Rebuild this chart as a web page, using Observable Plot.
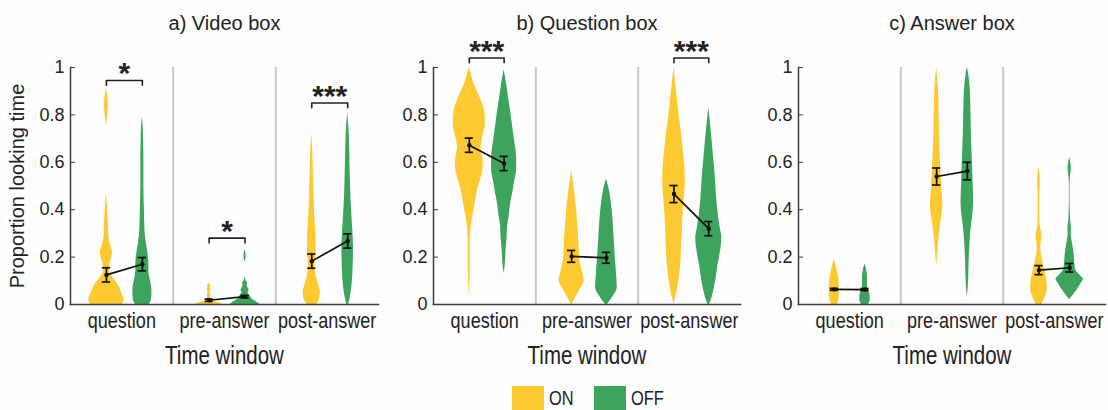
<!DOCTYPE html>
<html>
<head>
<meta charset="utf-8">
<script src="https://cdn.jsdelivr.net/npm/d3@7"></script>
<script src="https://cdn.jsdelivr.net/npm/@observablehq/plot@0.6"></script>
<style>
  html, body { margin: 0; padding: 0; background: #fdfdfd; }
  #wrap { position: relative; width: 1108px; height: 410px; overflow: hidden;
          font-family: "Liberation Sans", Arial, sans-serif; color: #222; }
  .panel { position: absolute; top: 0; }
  .legend { position: absolute; top: 386px; left: 512px; display: flex; align-items: center;
            font-family: "Liberation Sans", Arial, sans-serif; font-size: 20px; color: #222; }
  .sw { width: 32px; height: 24px; display: inline-block; margin-right: 5px; }
  .lab { display: inline-block; transform: scaleX(0.82); transform-origin: left center; margin-right: 14px; }
  .lab.on { width: 31px; }
</style>
</head>
<body>
<div id="wrap"></div>
<script>
// ---------- categories & labels ----------
const windows = ["question", "pre-answer", "post-answer"];
const conditions = ["ON", "OFF"];
const panelTitles = ["a) Video box", "b) Question box", "c) Answer box"];
const yTicks = [0, 0.2, 0.4, 0.6, 0.8, 1];
const yLabel = "Proportion looking time";
const xLabel = "Time window";

// ---------- means and standard errors (per time window) ----------
const videoMeanON = [0.125, 0.018, 0.183];
const videoMeanOFF = [0.17, 0.033, 0.268];
const videoSemON = [0.03, 0.005, 0.03];
const videoSemOFF = [0.028, 0.005, 0.03];

const questionMeanON = [0.672, 0.203, 0.466];
const questionMeanOFF = [0.595, 0.197, 0.32];
const questionSemON = [0.03, 0.025, 0.036];
const questionSemOFF = [0.03, 0.023, 0.03];

const answerMeanON = [0.064, 0.54, 0.145];
const answerMeanOFF = [0.063, 0.563, 0.155];
const answerSemON = [0.004, 0.036, 0.019];
const answerSemOFF = [0.004, 0.037, 0.018];

// ---------- significance labels (per time window) ----------
const videoSig = ["*", "*", "***"];
const videoSigLevel = [0.945, 0.28, 0.85];
const questionSig = ["***", "", "***"];
const questionSigLevel = [1.04, null, 1.04];
const answerSig = ["", "", ""];
const answerSigLevel = [null, null, null];

// ---------- violin density profiles: [proportion, relative density] ----------
const videoQuestionON = [[0,16],[0.02,17.5],[0.05,15],[0.08,12],[0.10,8.5],[0.12,5],[0.14,3],[0.17,3.5],[0.20,5.5],[0.22,6],[0.25,4],[0.28,2.5],[0.33,2],[0.38,1.5],[0.44,0.5],[0.48,0],[0.75,0],[0.78,0.8],[0.83,1.8],[0.86,1.8],[0.89,0.8],[0.91,0]];
const videoQuestionOFF = [[0,7],[0.02,9],[0.05,9.5],[0.08,9],[0.11,7.5],[0.14,6.5],[0.17,6.5],[0.2,6],[0.23,5],[0.27,3.5],[0.32,2.5],[0.4,2],[0.5,1.5],[0.6,1.5],[0.7,1.2],[0.75,0.8],[0.79,0]];
const videoPreON = [[0,13],[0.006,11],[0.012,5],[0.02,2],[0.03,1.5],[0.04,2],[0.05,1],[0.06,1.8],[0.07,1.2],[0.08,1.5],[0.09,0]];
const videoPreOFF = [[0,15],[0.01,12],[0.02,8],[0.03,6],[0.04,4.5],[0.05,3],[0.06,4],[0.07,3],[0.08,2],[0.09,2.5],[0.1,1],[0.12,0],[0.18,0],[0.19,0.8],[0.21,1],[0.23,0]];
const videoPostON = [[0,5],[0.02,7.5],[0.05,8.5],[0.08,7],[0.11,5],[0.14,3.5],[0.17,3.2],[0.22,4.3],[0.28,4.2],[0.35,3.2],[0.45,2.3],[0.55,1.6],[0.65,1],[0.72,0]];
const videoPostOFF = [[0,1],[0.03,2.5],[0.07,4],[0.12,5],[0.18,5.5],[0.24,5.8],[0.28,5.5],[0.35,4.5],[0.45,3.2],[0.55,2.5],[0.65,2],[0.72,1.5],[0.78,0.6],[0.81,0]];

const questionQuestionON = [[0.03,0],[0.1,0.7],[0.2,1],[0.28,1],[0.33,2],[0.37,3.3],[0.42,5.5],[0.48,8],[0.54,12],[0.59,14],[0.63,13],[0.66,11.7],[0.7,13],[0.76,16],[0.81,15.5],[0.86,12],[0.9,8],[0.94,4],[0.97,2],[1.0,0]];
const questionQuestionOFF = [[0.13,0],[0.17,1.2],[0.22,1.8],[0.28,3],[0.33,3.5],[0.37,5],[0.43,6.7],[0.48,9],[0.52,10.5],[0.57,12.5],[0.62,12.5],[0.66,11.5],[0.69,10.5],[0.75,8.5],[0.81,6.7],[0.87,4.5],[0.93,2.5],[0.99,0]];
const questionPreON = [[0,0.5],[0.03,4],[0.06,8],[0.1,12.5],[0.14,10.5],[0.18,8.5],[0.23,7.5],[0.28,7],[0.34,6],[0.41,4.7],[0.48,2.8],[0.53,1.3],[0.565,0]];
const questionPreOFF = [[0,1],[0.03,6],[0.07,10.8],[0.13,10],[0.2,8.8],[0.27,7.8],[0.37,6.3],[0.44,4.5],[0.49,2.5],[0.53,0]];
const questionPostON = [[0,0],[0.06,3.3],[0.12,5.5],[0.17,6.7],[0.24,7.5],[0.31,8.3],[0.38,9],[0.45,10.3],[0.52,11.3],[0.57,11],[0.62,10],[0.68,8.5],[0.73,7.3],[0.8,5],[0.87,3.3],[0.94,1.5],[1.0,0]];
const questionPostOFF = [[0,0.8],[0.03,3.3],[0.07,5.5],[0.11,7.3],[0.16,9],[0.2,10.7],[0.25,12.5],[0.28,13],[0.32,11.5],[0.37,9.7],[0.45,7.8],[0.55,6.3],[0.62,4.8],[0.69,3.3],[0.76,1.8],[0.83,0]];

const answerQuestionON = [[0,3],[0.02,4.5],[0.05,5],[0.08,4.8],[0.11,4.5],[0.13,3.5],[0.15,2.5],[0.17,1.5],[0.19,0]];
const answerQuestionOFF = [[0,3.5],[0.02,5.3],[0.04,5],[0.06,3.5],[0.08,2.5],[0.1,2.5],[0.12,2.5],[0.14,1.8],[0.16,0.8],[0.17,0]];
const answerPreON = [[0.16,0],[0.21,1],[0.27,2],[0.32,3.3],[0.37,5],[0.42,6.2],[0.47,5.5],[0.52,4.8],[0.57,4.2],[0.65,3.3],[0.72,2.8],[0.79,2.5],[0.86,2.2],[0.93,1.5],[1.0,0]];
const answerPreOFF = [[0.03,0],[0.08,1],[0.14,1.5],[0.21,2],[0.27,2.8],[0.32,3.7],[0.37,5.2],[0.43,6.3],[0.5,5.8],[0.57,5.3],[0.65,4.6],[0.72,4],[0.79,3.7],[0.86,3.3],[0.93,2.5],[0.98,1],[1.0,0]];
const answerPostON = [[0,3],[0.03,6],[0.065,8.3],[0.1,7.8],[0.13,6.5],[0.16,4.8],[0.19,3.3],[0.22,2],[0.25,1.8],[0.27,2.5],[0.29,3],[0.31,2.2],[0.34,1],[0.4,0.8],[0.45,0.8],[0.5,1.2],[0.53,1.3],[0.56,0.6],[0.58,0]];
const answerPostOFF = [[0.02,0],[0.04,3.7],[0.065,8],[0.09,11.5],[0.107,13.7],[0.125,10],[0.15,5.8],[0.18,5],[0.21,4.5],[0.24,3.5],[0.27,2.3],[0.3,1.5],[0.32,1.8],[0.35,1],[0.4,0.5],[0.45,0.3],[0.5,0.3],[0.54,0.8],[0.57,1.6],[0.6,1],[0.62,0]];

// ---------- styling ----------
const colorON = "#fdc930";
const colorOFF = "#3ca45c";
const axisColor = "#3c3c3c";
const narrowScale = 0.82;

const panels = [
  { title: panelTitles[0], mON: videoMeanON, mOFF: videoMeanOFF, sON: videoSemON, sOFF: videoSemOFF,
    sig: videoSig, sigLevel: videoSigLevel,
    profiles: [[videoQuestionON, videoQuestionOFF], [videoPreON, videoPreOFF], [videoPostON, videoPostOFF]],
    left: 0, width: 382, marginLeft: 70, marginRight: 4, offOFF: 0.2, showYLabel: true },
  { title: panelTitles[1], mON: questionMeanON, mOFF: questionMeanOFF, sON: questionSemON, sOFF: questionSemOFF,
    sig: questionSig, sigLevel: questionSigLevel,
    profiles: [[questionQuestionON, questionQuestionOFF], [questionPreON, questionPreOFF], [questionPostON, questionPostOFF]],
    left: 380, width: 363, marginLeft: 53, marginRight: 3, offOFF: 0.19, showYLabel: false },
  { title: panelTitles[2], mON: answerMeanON, mOFF: answerMeanOFF, sON: answerSemON, sOFF: answerSemOFF,
    sig: answerSig, sigLevel: answerSigLevel,
    profiles: [[answerQuestionON, answerQuestionOFF], [answerPreON, answerPreOFF], [answerPostON, answerPostOFF]],
    left: 745, width: 363, marginLeft: 53, marginRight: 3, offOFF: 0.15, showYLabel: false }
];

const wrap = document.getElementById("wrap");
const densityScale = 1 / 102;
const capHalf = 0.04;
const legDrop = 0.02;

panels.forEach(p => {
  const offset = { ON: -0.15, OFF: p.offOFF };
  const xpos = (wi, cond) => wi + offset[cond];

  const violinRows = [];
  p.profiles.forEach((pair, wi) => {
    pair.forEach((profile, ci) => {
      const cond = conditions[ci];
      profile.forEach(([v, w]) => violinRows.push({ wi, cond, v, w, key: windows[wi] + cond }));
    });
  });

  const stats = [];
  windows.forEach((w, wi) => {
    stats.push({ wi, cond: "ON", m: p.mON[wi], s: p.sON[wi] });
    stats.push({ wi, cond: "OFF", m: p.mOFF[wi], s: p.sOFF[wi] });
  });

  const brackets = [];
  const stars = [];
  p.sig.forEach((s, wi) => {
    if (!s) return;
    const lv = p.sigLevel[wi];
    const a = xpos(wi, "ON"), b = xpos(wi, "OFF");
    brackets.push({ wi, x: a, y: lv - legDrop }, { wi, x: a, y: lv }, { wi, x: b, y: lv }, { wi, x: b, y: lv - legDrop });
    stars.push({ x: (a + b) / 2, y: lv, s });
  });

  const separators = windows.slice(1).map((_, i) => i + 0.5);

  const marks = [
    Plot.ruleX(separators, { x: d => d, y1: 0, y2: 1, stroke: "#c8c8c8", strokeWidth: 2 }),
    Plot.areaX(violinRows, {
      y: "v",
      x1: d => xpos(d.wi, d.cond) - d.w * densityScale,
      x2: d => xpos(d.wi, d.cond) + d.w * densityScale,
      z: "key", fill: "cond", curve: "monotone-y"
    }),
    Plot.line(stats, { x: d => xpos(d.wi, d.cond), y: "m", z: "wi", stroke: "#111", strokeWidth: 1.7 }),
    Plot.ruleX(stats, { x: d => xpos(d.wi, d.cond), y1: d => d.m - d.s, y2: d => d.m + d.s, stroke: "#111", strokeWidth: 1.7 }),
    Plot.ruleY(stats, { y: d => d.m - d.s, x1: d => xpos(d.wi, d.cond) - capHalf, x2: d => xpos(d.wi, d.cond) + capHalf, stroke: "#111", strokeWidth: 1.7 }),
    Plot.ruleY(stats, { y: d => d.m + d.s, x1: d => xpos(d.wi, d.cond) - capHalf, x2: d => xpos(d.wi, d.cond) + capHalf, stroke: "#111", strokeWidth: 1.7 }),
    Plot.dot(stats, { x: d => xpos(d.wi, d.cond), y: "m", r: 2.2, fill: "#111" }),
    Plot.line(brackets, { x: "x", y: "y", z: "wi", stroke: "#222", strokeWidth: 1.6 }),
    Plot.text(stars, { x: "x", y: "y", text: "s", fontSize: 30, fontWeight: "bold", dy: -7, fill: "#222", lineAnchor: "middle" }),
    Plot.frame({ anchor: "left", stroke: axisColor, strokeWidth: 1.5 }),
    Plot.frame({ anchor: "bottom", stroke: axisColor, strokeWidth: 1.5 }),
    Plot.axisY(yTicks, { tickSize: -5, tickPadding: 11, tickFormat: d => String(d), fontSize: 18, stroke: axisColor, fill: "#222", label: null }),
    Plot.axisX([0, 1, 2], { className: "narrow", tickSize: 0, tickPadding: 8, tickFormat: i => windows[i], fontSize: 22, fill: "#222", label: null }),
    Plot.text([xLabel], { className: "narrow", text: d => d, frameAnchor: "bottom", lineAnchor: "middle", dy: 51, fontSize: 25, fill: "#222" }),
    Plot.text([p.title], { text: d => d, frameAnchor: "top", lineAnchor: "middle", dy: -44, fontSize: 20, fill: "#222" })
  ];
  if (p.showYLabel) {
    marks.push(Plot.text([yLabel], { text: d => d, frameAnchor: "left", textAnchor: "middle", lineAnchor: "middle", rotate: -90, dx: -53, fontSize: 20, fill: "#222" }));
  }

  const chart = Plot.plot({
    width: p.width,
    height: 365,
    marginTop: 67,
    marginBottom: 61,
    marginLeft: p.marginLeft,
    marginRight: p.marginRight,
    x: { domain: [-0.5, 2.5] },
    y: { domain: [0, 1] },
    color: { domain: conditions, range: [colorON, colorOFF] },
    style: { background: "transparent", fontFamily: "Liberation Sans, Arial, sans-serif", overflow: "visible" },
    marks
  });
  // condensed look for the bottom labels (narrow face is not installed)
  chart.querySelectorAll(".narrow text").forEach(t => {
    const tr = t.getAttribute("transform") || "";
    t.setAttribute("transform", tr + ` scale(${narrowScale},1)`);
  });
  chart.classList.add("panel");
  chart.style.left = p.left + "px";
  wrap.appendChild(chart);
});

// legend
const legend = document.createElement("div");
legend.className = "legend";
conditions.forEach((c, i) => {
  const sw = document.createElement("span");
  sw.className = "sw";
  sw.style.background = i === 0 ? colorON : colorOFF;
  const lab = document.createElement("span");
  lab.className = "lab" + (i === 0 ? " on" : "");
  lab.textContent = c;
  legend.appendChild(sw);
  legend.appendChild(lab);
});
wrap.appendChild(legend);
</script>
</body>
</html>
